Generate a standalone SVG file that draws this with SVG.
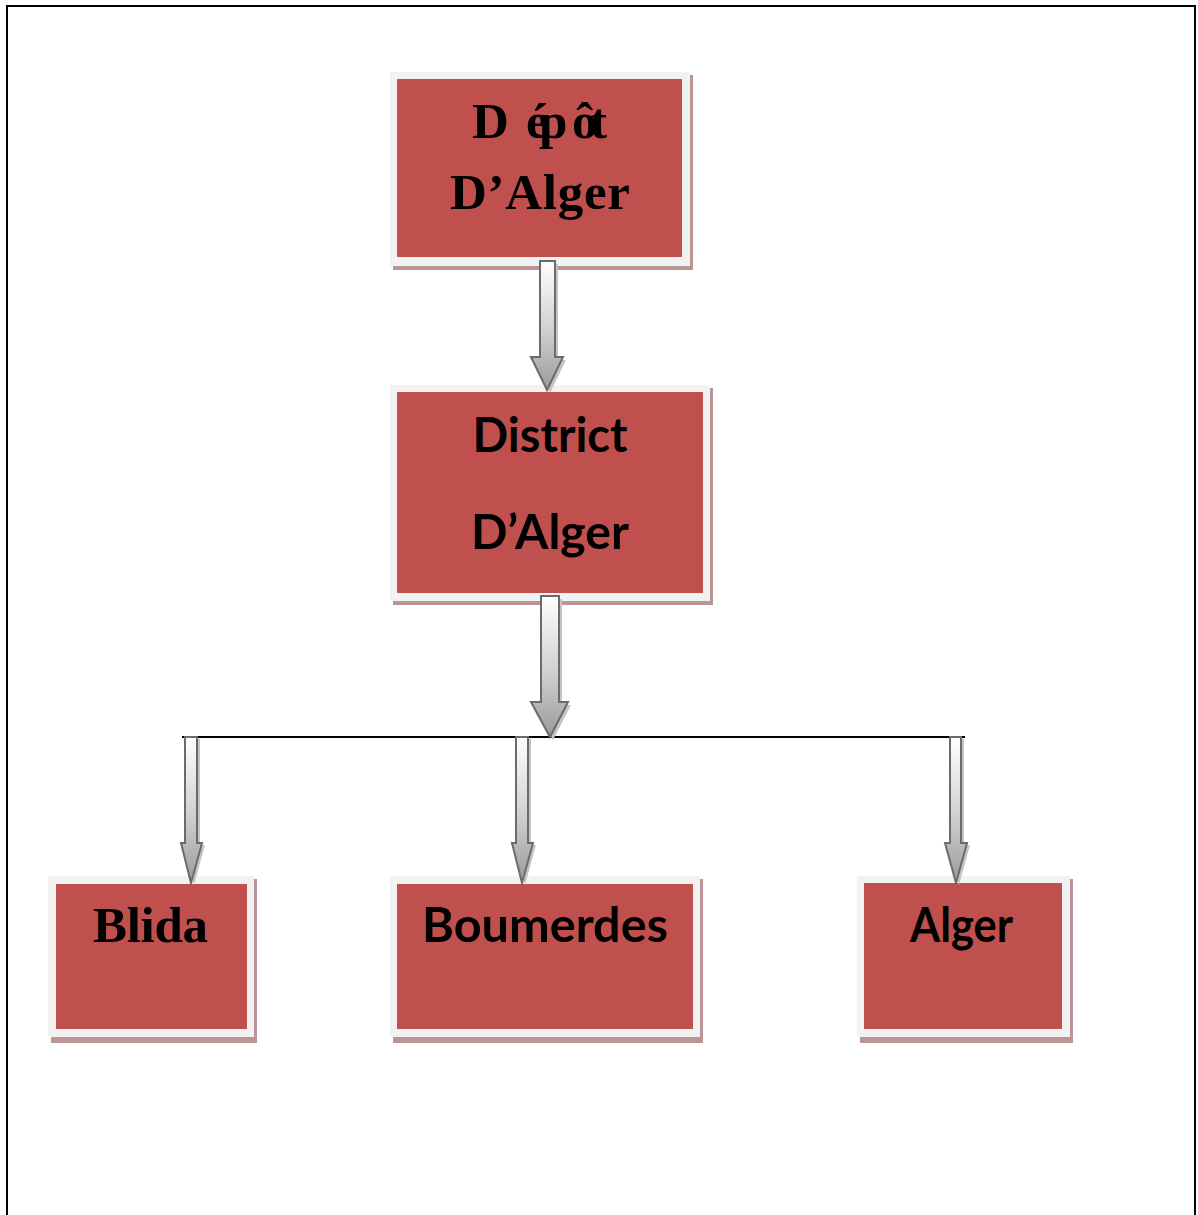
<svg xmlns="http://www.w3.org/2000/svg" width="1198" height="1215" viewBox="0 0 1198 1215">
<defs>
<linearGradient id="ag" x1="0" y1="0" x2="0" y2="1">
<stop offset="0" stop-color="#ffffff"/>
<stop offset="0.55" stop-color="#cfcfcf"/>
<stop offset="1" stop-color="#9a9a9a"/>
</linearGradient>
<style>
.shadow{fill:#b99595}
.frame{fill:#f2f2f2}
.red{fill:#c0504d}
.arr{fill:url(#ag);stroke:#6b6b6b;stroke-width:2;stroke-linejoin:miter}
.arrsh{fill:#c4c4c4}
.tb{font-family:"Liberation Serif","Times New Roman",serif;font-weight:bold;font-size:51px;fill:#000}
.cb{font-family:Lato,"Liberation Sans",sans-serif;font-weight:bold;font-size:48px;fill:#000}
</style>
</defs>
<rect width="1198" height="1215" fill="#fff"/>
<rect x="7" y="6" width="1188" height="1230" fill="none" stroke="#000" stroke-width="2"/>

<g id="depot">
<rect class="shadow" x="393" y="75" width="300" height="195"/>
<rect class="frame" x="390" y="72" width="300" height="194"/>
<rect class="red" x="397" y="79" width="285" height="178"/>
<text class="tb" x="472 526 539 572 590" y="138">Dépôt</text>
<text class="tb" x="540" y="209" text-anchor="middle" textLength="180">D’Alger</text>
</g>

<g id="district">
<rect class="shadow" x="393" y="388" width="320" height="217"/>
<rect class="frame" x="390" y="385" width="320" height="216"/>
<rect class="red" x="397" y="392" width="306" height="201"/>
<text class="cb" x="550" y="452" text-anchor="middle" textLength="155" lengthAdjust="spacingAndGlyphs">District</text>
<text class="cb" x="550" y="549" text-anchor="middle" textLength="158" lengthAdjust="spacingAndGlyphs">D’Alger</text>
</g>

<g id="blida">
<rect class="shadow" x="51" y="879" width="206" height="164"/>
<rect class="frame" x="48" y="876" width="206" height="161"/>
<rect class="red" x="56" y="884" width="191" height="145"/>
<text class="tb" x="150.5" y="942" text-anchor="middle" textLength="115">Blida</text>
</g>

<g id="boumerdes">
<rect class="shadow" x="393" y="879" width="310" height="164"/>
<rect class="frame" x="390" y="876" width="310" height="161"/>
<rect class="red" x="397" y="884" width="296" height="145"/>
<text class="cb" x="545" y="942" text-anchor="middle" textLength="246" lengthAdjust="spacingAndGlyphs">Boumerdes</text>
</g>

<g id="alger">
<rect class="shadow" x="860" y="879" width="213" height="164"/>
<rect class="frame" x="857" y="876" width="213" height="161"/>
<rect class="red" x="864" y="883" width="198" height="146"/>
<text class="cb" x="961.5" y="942" text-anchor="middle" textLength="103" lengthAdjust="spacingAndGlyphs">Alger</text>
</g>

<g id="connectors">
<line x1="182" y1="737" x2="965" y2="737" stroke="#000" stroke-width="2"/>
<path class="arrsh" transform="translate(3,3)" d="M540,261 H555 V357 H563 L547,390 L531,357 H540 Z"/>
<path class="arr" d="M540,261 H555 V357 H563 L547,390 L531,357 H540 Z"/>
<path class="arrsh" transform="translate(3,3)" d="M541,596 H559 V702 H568 L550,737 L531,702 H541 Z"/>
<path class="arr" d="M541,596 H559 V702 H568 L550,737 L531,702 H541 Z"/>
<path class="arrsh" transform="translate(3,2)" d="M185,737 H197 V843 H202 L191,883 L181,843 H185 Z"/>
<path class="arr" d="M185,737 H197 V843 H202 L191,883 L181,843 H185 Z"/>
<path class="arrsh" transform="translate(3,2)" d="M516,737 H528 V843 H533 L522,883 L512,843 H516 Z"/>
<path class="arr" d="M516,737 H528 V843 H533 L522,883 L512,843 H516 Z"/>
<path class="arrsh" transform="translate(3,2)" d="M950,737 H961 V843 H967 L956,883 L945,843 H950 Z"/>
<path class="arr" d="M950,737 H961 V843 H967 L956,883 L945,843 H950 Z"/>
</g>
</svg>
